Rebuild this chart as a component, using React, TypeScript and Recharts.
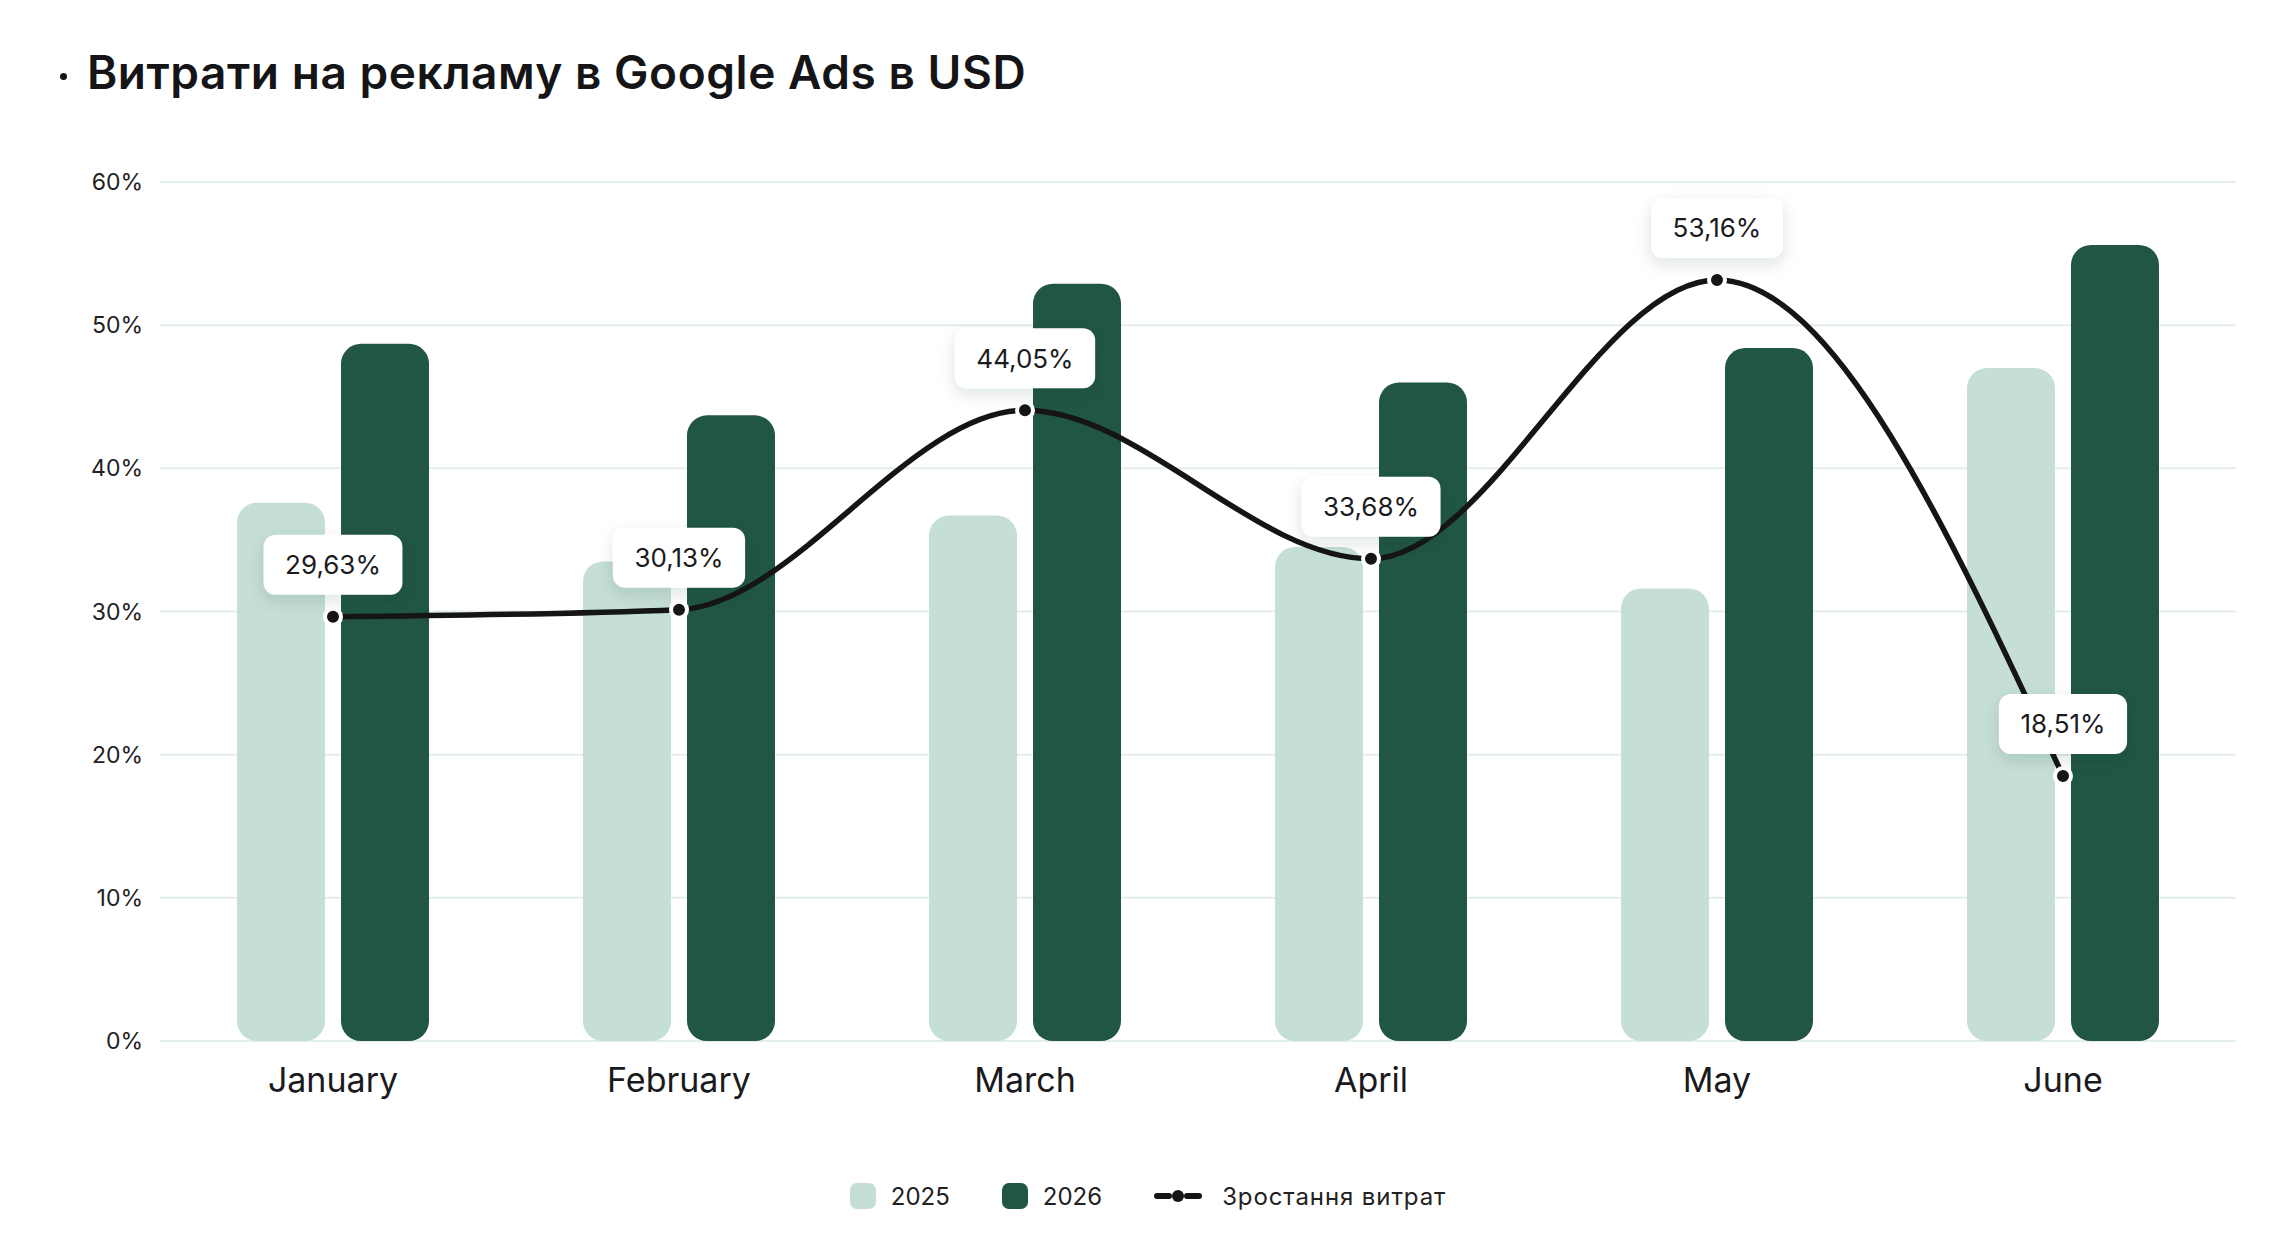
import { ComposedChart, Bar, Line, XAxis, YAxis, CartesianGrid, Legend, LabelList } from 'recharts'

const months = ['January', 'February', 'March', 'April', 'May', 'June']
const spend2025 = [37.6, 33.5, 36.7, 34.5, 31.6, 47.0]
const spend2026 = [48.7, 43.7, 52.9, 46.0, 48.4, 55.6]
const growth = [29.63, 30.13, 44.05, 33.68, 53.16, 18.51]
const yTicks = [0, 10, 20, 30, 40, 50, 60]

const data = months.map((month, i) => ({
  month,
  y2025: spend2025[i],
  y2026: spend2026[i],
  growth: growth[i],
}))

const LIGHT = '#C5DFD6'
const DARK = '#215644'
const INK = '#151517'
const FONT = 'Inter, "Noto Sans", sans-serif'

const fmtPct = (v: number) => `${v.toFixed(2).replace('.', ',')}%`

let measureCtx: CanvasRenderingContext2D | null = null
const textWidth = (text: string, font: string) => {
  if (!measureCtx) measureCtx = document.createElement('canvas').getContext('2d')
  if (!measureCtx) return text.length * 15
  measureCtx.font = font
  return measureCtx.measureText(text).width
}

const GrowthLabel = (props: any) => {
  const { x, y, value } = props
  if (x == null || y == null) return null
  const text = fmtPct(Number(value))
  const w = textWidth(text, `26px ${FONT}`) + 43
  const h = 60
  const bottom = y - 22
  return (
    <g>
      <rect
        x={x - w / 2}
        y={bottom - h}
        width={w}
        height={h}
        rx={12}
        ry={12}
        fill="#fff"
        filter="url(#labelShadow)"
      />
      <text
        x={x}
        y={bottom - h / 2}
        textAnchor="middle"
        dominantBaseline="central"
        fontSize={26}
        fontFamily={FONT}
        fill="#1b1b1d"
      >
        {text}
      </text>
    </g>
  )
}

const LegendContent = (props: any) => {
  const { payload = [] } = props
  return (
    <div
      style={{
        height: 30,
        display: 'flex',
        justifyContent: 'center',
        alignItems: 'center',
        fontFamily: FONT,
        fontSize: 24,
        color: '#222',
      }}
    >
      {payload.map((entry: any, i: number) => (
        <div key={`legend-${i}`} style={{ display: 'flex', alignItems: 'center', marginLeft: i === 0 ? 0 : 52 }}>
          {entry.type === 'line' ? (
            <svg width={48} height={14} style={{ marginRight: 20 }}>
              <line x1={3} y1={7} x2={15} y2={7} stroke={INK} strokeWidth={6} strokeLinecap="round" />
              <line x1={33} y1={7} x2={45} y2={7} stroke={INK} strokeWidth={6} strokeLinecap="round" />
              <circle cx={24} cy={7} r={6} fill={INK} />
            </svg>
          ) : (
            <span
              style={{
                width: 26,
                height: 26,
                borderRadius: 7,
                background: entry.color,
                display: 'inline-block',
                marginRight: 15,
              }}
            />
          )}
          <span style={{ letterSpacing: entry.type === 'line' ? 0.9 : 0 }}>{entry.value}</span>
        </div>
      ))}
    </div>
  )
}

export default function App() {
  return (
    <div
      style={{
        position: 'absolute',
        left: 0,
        top: 0,
        width: 2296,
        height: 1246,
        background: '#fff',
        fontFamily: FONT,
      }}
    >
      <div
        style={{
          position: 'absolute',
          left: 60,
          top: 73,
          width: 7,
          height: 7,
          borderRadius: '50%',
          background: INK,
        }}
      />
      <div
        style={{
          position: 'absolute',
          left: 87,
          top: 49,
          fontSize: 46,
          lineHeight: '46px',
          fontWeight: 600,
          letterSpacing: 0.55,
          color: INK,
          whiteSpace: 'nowrap',
        }}
      >
        Витрати на рекламу в Google Ads в USD
      </div>
      <ComposedChart
        width={2296}
        height={1246}
        data={data}
        margin={{ top: 182, right: 60, bottom: 35, left: 0 }}
        barSize={88}
        barGap={16}
      >
        <defs>
          <filter id="labelShadow" x="-30%" y="-40%" width="160%" height="200%">
            <feDropShadow dx="0" dy="6" stdDeviation="8" floodColor="#1e2a30" floodOpacity="0.13" />
          </filter>
        </defs>
        <CartesianGrid vertical={false} stroke="#E3EFE6" strokeWidth={2} />
        <XAxis
          dataKey="month"
          height={140}
          axisLine={false}
          tickLine={false}
          tickSize={6}
          tickMargin={21}
          tick={{ fontSize: 34, fill: '#1a1a1c', fontFamily: FONT }}
        />
        <YAxis
          width={160}
          domain={[0, 60]}
          ticks={yTicks}
          axisLine={false}
          tickLine={false}
          tickSize={6}
          tickMargin={11}
          tickFormatter={(v: number) => `${v}%`}
          tick={{ fontSize: 23, fill: '#222', fontFamily: FONT }}
        />
        <Legend
          verticalAlign="bottom"
          wrapperStyle={{ left: 0, width: 2296 }}
          content={<LegendContent />}
        />
        <Bar dataKey="y2025" name="2025" fill={LIGHT} radius={[20, 20, 20, 20]} isAnimationActive={false} />
        <Bar dataKey="y2026" name="2026" fill={DARK} radius={[20, 20, 20, 20]} isAnimationActive={false} />
        <Line
          type="monotone"
          dataKey="growth"
          name="Зростання витрат"
          stroke={INK}
          strokeWidth={5.5}
          dot={{ r: 8, fill: INK, stroke: '#fff', strokeWidth: 4 }}
          activeDot={false}
          legendType="line"
          isAnimationActive={false}
        >
          <LabelList dataKey="growth" content={<GrowthLabel />} />
        </Line>
      </ComposedChart>
    </div>
  )
}
